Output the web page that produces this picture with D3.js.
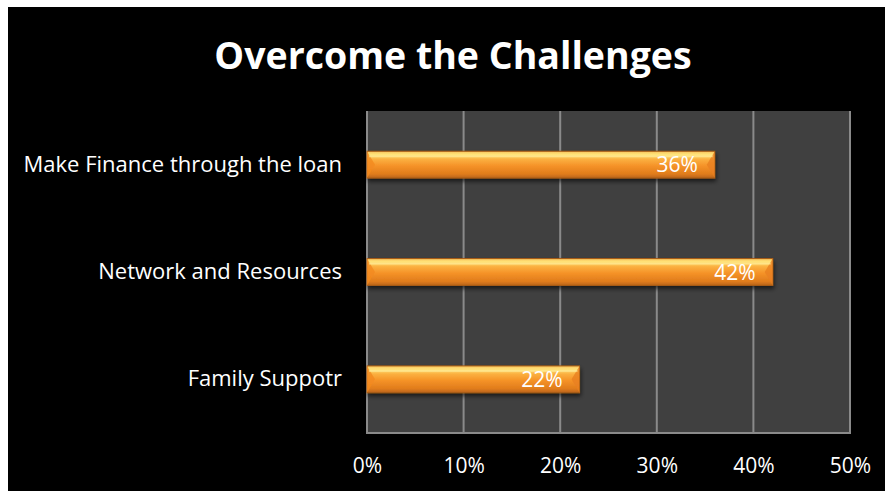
<!DOCTYPE html>
<html>
<head>
<meta charset="utf-8">
<script src="https://cdn.jsdelivr.net/npm/d3@7"></script>
<style>
  html, body { margin: 0; padding: 0; background: #ffffff; }
  svg { display: block; }
  text { font-family: "Open Sans", "Noto Sans", sans-serif; }
</style>
</head>
<body>
<svg id="chart" width="886" height="491"></svg>
<script>
// Chart data
const categories = ["Make Finance through the loan", "Network and Resources", "Family Suppotr"];
const values = [36, 42, 22];
const tickValues = [0, 10, 20, 30, 40, 50];
const titleText = "Overcome the Challenges";

const svg = d3.select("#chart");

// Black slide panel
svg.append("rect").attr("x", 8).attr("y", 7).attr("width", 877).attr("height", 484).attr("fill", "#000");

const plot = { left: 367, right: 850, top: 111, bottom: 433 };

const x = d3.scaleLinear().domain([0, 50]).range([plot.left, plot.right]);
const y = d3.scaleBand().domain(categories).range([plot.top, plot.bottom]).paddingInner(0.75).paddingOuter(0.375);

const defs = svg.append("defs");
const grad = defs.append("linearGradient").attr("id", "barGrad").attr("x1", 0).attr("y1", 0).attr("x2", 0).attr("y2", 1);
[[0, "#f9c25a"], [0.12, "#ffe47a"], [0.3, "#fbb040"], [0.55, "#f59227"], [0.85, "#e07c1c"], [1, "#b9641a"]]
  .forEach(([o, c]) => grad.append("stop").attr("offset", o).attr("stop-color", c));
const shadow = defs.append("filter").attr("id", "shadow").attr("x", "-5%").attr("y", "-30%").attr("width", "110%").attr("height", "180%");
shadow.append("feGaussianBlur").attr("in", "SourceAlpha").attr("stdDeviation", 2);
shadow.append("feOffset").attr("dx", 1).attr("dy", 3).attr("result", "b");
shadow.append("feComponentTransfer").append("feFuncA").attr("type", "linear").attr("slope", 0.6);
const merge = shadow.append("feMerge");
merge.append("feMergeNode");
merge.append("feMergeNode").attr("in", "SourceGraphic");

// Plot background
svg.append("rect").attr("x", plot.left).attr("y", plot.top)
  .attr("width", plot.right - plot.left).attr("height", plot.bottom - plot.top).attr("fill", "#404040");

// Vertical gridlines
svg.append("g").selectAll("line").data(tickValues.slice(1)).join("line")
  .attr("x1", d => x(d)).attr("x2", d => x(d))
  .attr("y1", plot.top).attr("y2", plot.bottom)
  .attr("stroke", "#8a8a8a").attr("stroke-width", 2);

// Axis lines
svg.append("line").attr("x1", plot.left).attr("x2", plot.left).attr("y1", plot.top).attr("y2", plot.bottom + 1)
  .attr("stroke", "#8a8a8a").attr("stroke-width", 2);
svg.append("line").attr("x1", plot.left - 1).attr("x2", plot.right + 1).attr("y1", plot.bottom).attr("y2", plot.bottom)
  .attr("stroke", "#8a8a8a").attr("stroke-width", 2);

// X axis tick labels
const xAxis = d3.axisBottom(x).tickValues(tickValues).tickFormat(d => d + "%").tickSize(0).tickPadding(0);
const gx = svg.append("g").attr("transform", `translate(0, ${plot.bottom + 25})`).call(xAxis);
gx.select(".domain").remove();
gx.selectAll("text").attr("fill", "#fff").attr("font-size", 21).attr("dy", "0.71em")
  .style("font-family", '"Open Sans", sans-serif');

// Category labels
const yAxis = d3.axisLeft(y).tickSize(0).tickPadding(0);
const gy = svg.append("g").attr("transform", `translate(342, 0)`).call(yAxis);
gy.select(".domain").remove();
gy.selectAll("text").attr("fill", "#fff").attr("font-size", 22).attr("text-anchor", "end")
  .style("font-family", '"Open Sans", sans-serif');

// Bars with beveled ends
const bars = svg.append("g").selectAll("g").data(categories).join("g").attr("filter", "url(#shadow)");
bars.append("rect")
  .attr("x", x(0)).attr("y", d => y(d))
  .attr("width", (d, i) => x(values[i]) - x(0)).attr("height", y.bandwidth())
  .attr("fill", "url(#barGrad)").attr("stroke", "#a85c16").attr("stroke-width", 1);
const bev = 8;
// left bevel
bars.append("path")
  .attr("d", d => {
    const y0 = y(d), h = y.bandwidth(), x0 = x(0);
    return `M${x0},${y0} L${x0 + bev},${y0 + h / 2} L${x0},${y0 + h} Z`;
  })
  .attr("fill", "#f2891f").attr("opacity", 0.8);
// right bevel
bars.append("path")
  .attr("d", (d, i) => {
    const y0 = y(d), h = y.bandwidth(), x1 = x(values[i]);
    return `M${x1},${y0} L${x1 - bev},${y0 + h / 2} L${x1},${y0 + h} Z`;
  })
  .attr("fill", "#e88020").attr("opacity", 0.8);
// top highlight line
bars.append("rect")
  .attr("x", x(0) + 2).attr("y", d => y(d) + 4)
  .attr("width", (d, i) => x(values[i]) - x(0) - 4).attr("height", 2)
  .attr("fill", "#fff0a0").attr("opacity", 0.6);

// Value labels
svg.append("g").selectAll("text").data(categories).join("text")
  .attr("x", (d, i) => x(values[i]) - 17)
  .attr("y", d => y(d) + y.bandwidth() / 2)
  .attr("dy", "0.36em").attr("text-anchor", "end")
  .attr("fill", "#fff").attr("font-size", 21)
  .text((d, i) => values[i] + "%");

// Title
svg.append("text").attr("x", 453).attr("y", 69).attr("text-anchor", "middle")
  .attr("fill", "#fff").attr("font-size", 37.5).attr("font-weight", "bold")
  .text(titleText);
</script>
</body>
</html>
